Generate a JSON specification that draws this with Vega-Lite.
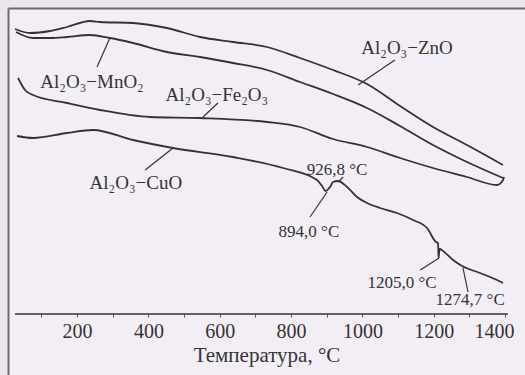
{
  "$schema": "https://vega.github.io/schema/vega-lite/v6.json",
  "width": 517,
  "height": 367,
  "autosize": {"type": "none"},
  "padding": {"left": 8, "top": 8, "right": 0, "bottom": 0},
  "background": "#ebe6ee",
  "config": {
    "view": {"stroke": null, "fill": "#f3eef5"},
    "font": "Liberation Serif",
    "axisY": {"domainColor": "#6a6a6a", "domainWidth": 2, "labels": false, "ticks": false, "grid": false, "title": null}
  },
  "datasets": {
    "curves": [
      {"series": "ZnO", "T": 26.1, "v": 346}, {"series": "ZnO", "T": 68.1, "v": 342}, {"series": "ZnO", "T": 124.2, "v": 344}, {"series": "ZnO", "T": 171.9, "v": 348}, {"series": "ZnO", "T": 236.3, "v": 354}, {"series": "ZnO", "T": 264.4, "v": 353}, {"series": "ZnO", "T": 356.9, "v": 352}, {"series": "ZnO", "T": 452.2, "v": 347}, {"series": "ZnO", "T": 544.7, "v": 338}, {"series": "ZnO", "T": 637.2, "v": 333}, {"series": "ZnO", "T": 732.6, "v": 328}, {"series": "ZnO", "T": 825.1, "v": 317}, {"series": "ZnO", "T": 917.6, "v": 305}, {"series": "ZnO", "T": 1012.9, "v": 291}, {"series": "ZnO", "T": 1105.4, "v": 269}, {"series": "ZnO", "T": 1197.9, "v": 248}, {"series": "ZnO", "T": 1293.2, "v": 230}, {"series": "ZnO", "T": 1394.2, "v": 210},
      {"series": "MnO2", "T": 28.9, "v": 343}, {"series": "MnO2", "T": 76.5, "v": 337}, {"series": "MnO2", "T": 124.2, "v": 337}, {"series": "MnO2", "T": 171.9, "v": 338}, {"series": "MnO2", "T": 236.3, "v": 340}, {"series": "MnO2", "T": 292.4, "v": 337}, {"series": "MnO2", "T": 356.9, "v": 332}, {"series": "MnO2", "T": 452.2, "v": 323}, {"series": "MnO2", "T": 544.7, "v": 318}, {"series": "MnO2", "T": 637.2, "v": 312}, {"series": "MnO2", "T": 732.6, "v": 305}, {"series": "MnO2", "T": 825.1, "v": 293}, {"series": "MnO2", "T": 917.6, "v": 281}, {"series": "MnO2", "T": 1012.9, "v": 267}, {"series": "MnO2", "T": 1105.4, "v": 249}, {"series": "MnO2", "T": 1197.9, "v": 230}, {"series": "MnO2", "T": 1293.2, "v": 213}, {"series": "MnO2", "T": 1394.2, "v": 197},
      {"series": "Fe2O3", "T": 34.5, "v": 297}, {"series": "Fe2O3", "T": 54.1, "v": 285}, {"series": "Fe2O3", "T": 76.5, "v": 280}, {"series": "Fe2O3", "T": 171.9, "v": 272}, {"series": "Fe2O3", "T": 264.4, "v": 265}, {"series": "Fe2O3", "T": 404.5, "v": 258}, {"series": "Fe2O3", "T": 544.7, "v": 257}, {"series": "Fe2O3", "T": 732.6, "v": 253}, {"series": "Fe2O3", "T": 825.1, "v": 248}, {"series": "Fe2O3", "T": 917.6, "v": 236}, {"series": "Fe2O3", "T": 1012.9, "v": 228}, {"series": "Fe2O3", "T": 1105.4, "v": 217}, {"series": "Fe2O3", "T": 1197.9, "v": 207}, {"series": "Fe2O3", "T": 1293.2, "v": 198}, {"series": "Fe2O3", "T": 1377.4, "v": 190}, {"series": "Fe2O3", "T": 1394.2, "v": 195}, {"series": "Fe2O3", "T": 1397.0, "v": 198},
      {"series": "CuO", "T": 31.7, "v": 239}, {"series": "CuO", "T": 76.5, "v": 237}, {"series": "CuO", "T": 171.9, "v": 242}, {"series": "CuO", "T": 244.7, "v": 245}, {"series": "CuO", "T": 356.9, "v": 235}, {"series": "CuO", "T": 469.0, "v": 227}, {"series": "CuO", "T": 637.2, "v": 218}, {"series": "CuO", "T": 777.4, "v": 207}, {"series": "CuO", "T": 872.7, "v": 195}, {"series": "CuO", "T": 886.7, "v": 189}, {"series": "CuO", "T": 896.6, "v": 184}, {"series": "CuO", "T": 909.2, "v": 188}, {"series": "CuO", "T": 917.6, "v": 193}, {"series": "CuO", "T": 931.6, "v": 194}, {"series": "CuO", "T": 956.9, "v": 188}, {"series": "CuO", "T": 984.9, "v": 178}, {"series": "CuO", "T": 1012.9, "v": 172}, {"series": "CuO", "T": 1049.4, "v": 167}, {"series": "CuO", "T": 1097.0, "v": 162}, {"series": "CuO", "T": 1141.9, "v": 155}, {"series": "CuO", "T": 1181.1, "v": 147}, {"series": "CuO", "T": 1206.3, "v": 133}, {"series": "CuO", "T": 1212.0, "v": 132}, {"series": "CuO", "T": 1213.4, "v": 117}, {"series": "CuO", "T": 1216.2, "v": 126}, {"series": "CuO", "T": 1226.0, "v": 124}, {"series": "CuO", "T": 1254.1, "v": 115}, {"series": "CuO", "T": 1279.3, "v": 109}, {"series": "CuO", "T": 1329.8, "v": 102}, {"series": "CuO", "T": 1377.4, "v": 95}, {"series": "CuO", "T": 1394.2, "v": 92}
    ],
    "compounds": [
      {"text": "Al₂O₃−ZnO", "T": 1125, "v": 327},
      {"text": "Al₂O₃−MnO₂", "T": 242, "v": 293},
      {"text": "Al₂O₃−Fe₂O₃", "T": 592, "v": 280},
      {"text": "Al₂O₃−CuO", "T": 365, "v": 192}
    ],
    "temps": [
      {"text": "926,8 °C", "T": 929, "v": 205},
      {"text": "894,0 °C", "T": 850, "v": 143},
      {"text": "1205,0 °C", "T": 1111, "v": 92},
      {"text": "1274,7 °C", "T": 1302, "v": 75}
    ],
    "leaders": [
      {"T": 1091, "v": 315, "T2": 988, "v2": 290},
      {"T": 256, "v": 308, "T2": 292, "v2": 337},
      {"T": 595, "v": 272, "T2": 553, "v2": 258},
      {"T": 391, "v": 205, "T2": 469, "v2": 227},
      {"T": 946, "v": 198, "T2": 932, "v2": 193},
      {"T": 853, "v": 158, "T2": 901, "v2": 183},
      {"T": 1162, "v": 105, "T2": 1215, "v2": 117},
      {"T": 1296, "v": 83, "T2": 1282, "v2": 107}
    ]
  },
  "resolve": {"axis": {"x": "independent"}},
  "layer": [
    {
      "data": {"name": "curves"},
      "mark": {"type": "line", "color": "#333333", "strokeWidth": 1.8, "interpolate": "monotone"},
      "encoding": {
        "x": {"field": "T", "type": "quantitative", "scale": {"domain": [6.4, 1455.8], "nice": false, "zero": false},
          "axis": {"orient": "bottom", "offset": -61, "domain": false, "grid": false,
            "values": [100, 200, 300, 400, 500, 600, 700, 800, 900, 1000, 1100, 1200, 1300, 1400],
            "format": "d", "labelExpr": "datum.value % 200 == 0 ? datum.label : ''",
            "ticks": true, "tickSize": 3, "tickColor": "#555555",
            "labelPadding": 4, "labelFontSize": 20, "labelFont": "Liberation Serif", "labelColor": "#333333",
            "labelOverlap": false, "labelFlush": 25, "labelFlushOffset": 9,
            "title": "Температура, °C", "titleFont": "Liberation Serif", "titleFontSize": 21, "titleFontWeight": "normal", "titleColor": "#333333", "titlePadding": 3}},
        "y": {"field": "v", "type": "quantitative", "scale": {"domain": [0, 367], "nice": false, "zero": false}, "axis": {"title": null, "labels": false, "ticks": false, "grid": false}},
        "detail": {"field": "series"}
      }
    },
    {
      "data": {"name": "leaders"},
      "mark": {"type": "rule", "color": "#333333", "strokeWidth": 1.2},
      "encoding": {
        "x": {"field": "T", "type": "quantitative", "axis": {"orient": "top", "labels": false, "ticks": false, "domain": true, "domainColor": "#6a6a6a", "domainWidth": 2, "title": null, "grid": false}},
        "x2": {"field": "T2"},
        "y": {"field": "v", "type": "quantitative", "axis": {"title": null, "labels": false, "ticks": false, "grid": false}},
        "y2": {"field": "v2"}
      }
    },
    {
      "data": {"name": "compounds"},
      "mark": {"type": "text", "font": "Liberation Serif", "fontSize": 19, "color": "#333333", "align": "center", "baseline": "middle"},
      "encoding": {
        "x": {"field": "T", "type": "quantitative", "axis": null},
        "y": {"field": "v", "type": "quantitative", "axis": {"title": null, "labels": false, "ticks": false, "grid": false}},
        "text": {"field": "text"}
      }
    },
    {
      "data": {"name": "temps"},
      "mark": {"type": "text", "font": "Liberation Serif", "fontSize": 17, "color": "#333333", "align": "center", "baseline": "middle"},
      "encoding": {
        "x": {"field": "T", "type": "quantitative", "axis": null},
        "y": {"field": "v", "type": "quantitative", "axis": {"title": null, "labels": false, "ticks": false, "grid": false}},
        "text": {"field": "text"}
      }
    },
    {
      "data": {"values": [{}]},
      "mark": {"type": "rule", "color": "#333333", "strokeWidth": 1.5},
      "encoding": {
        "x": {"datum": 26, "type": "quantitative", "axis": null},
        "x2": {"datum": 1408},
        "y": {"datum": 61, "type": "quantitative", "axis": {"title": null, "labels": false, "ticks": false, "grid": false}}
      }
    }
  ]
}
